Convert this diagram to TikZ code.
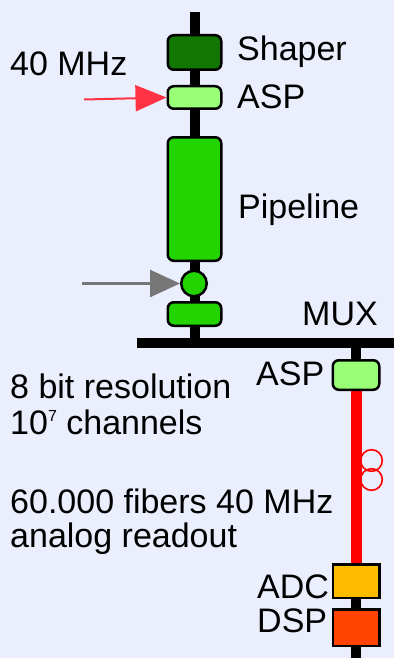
\documentclass[tikz,border=0pt]{standalone}
\usepackage{fontspec}
\setmainfont{Liberation Sans}
\usetikzlibrary{arrows.meta}
\definecolor{bgc}{RGB}{234,238,253}
\definecolor{darkg}{RGB}{17,119,0}
\definecolor{lightg}{RGB}{153,255,119}
\definecolor{midg}{RGB}{34,212,0}
\definecolor{adcc}{RGB}{255,187,0}
\definecolor{dspc}{RGB}{255,68,0}
\definecolor{arrred}{RGB}{255,51,68}
\definecolor{arrgray}{RGB}{119,119,119}
\definecolor{fibred}{RGB}{255,0,0}
\tikzset{
  blk/.style={draw=black,line width=2.5pt,rounded corners=6pt,inner sep=0pt},
  sqblk/.style={draw=black,line width=2.5pt,inner sep=0pt},
  lbl/.style={anchor=base west,inner sep=0pt,font=\fontsize{34}{36}\selectfont},
  wire/.style={line width=10pt,black},
}
\begin{document}
\begin{tikzpicture}[x=1pt,y=-1pt]
\fill[bgc] (0,0) rectangle (394,658);
\useasboundingbox (0,0) rectangle (394,658);
% chain coordinates
\coordinate (ltop) at (194.5,12);
\coordinate (lbar) at (194.5,343);
\coordinate (barL) at (137,343);
\coordinate (barR) at (394,343);
\coordinate (rbar) at (356,343);
\coordinate (rbot) at (356,658);
% node positions
\coordinate (shaper) at (194.5,52.5);
\coordinate (asp1) at (194.5,97.5);
\coordinate (pipe) at (194.5,199);
\coordinate (circ) at (194,283.5);
\coordinate (mux) at (194.5,314);
\coordinate (asp2) at (356,375);
\coordinate (adc) at (356,581);
\coordinate (dsp) at (356,627.5);
% wires (behind the boxes)
\draw[wire] (ltop) -- (lbar);
\draw[wire] (barL) -- (barR);
\draw[wire] (rbar) -- (rbot);
\draw[line width=11pt,fibred] (asp2) -- (adc);
% fibre loops
\draw[fibred,line width=1.6pt] (371.5,460.5) circle[radius=10.8];
\draw[fibred,line width=1.6pt] (371.5,479.5) circle[radius=10.8];
\draw[line width=11pt,fibred] (356,440) -- (356,500);
% boxes
\node[blk,fill=darkg,minimum width=53.5pt,minimum height=34.5pt] (nshaper) at (shaper) {};
\node[blk,fill=lightg,minimum width=53.5pt,minimum height=22.5pt] (nasp1) at (asp1) {};
\node[blk,fill=midg,minimum width=53.5pt,minimum height=123.5pt] (npipe) at (pipe) {};
\node[circle,draw=black,line width=2.5pt,fill=midg,minimum size=25.5pt,inner sep=0pt] (ncirc) at (circ) {};
\node[blk,fill=midg,minimum width=53.5pt,minimum height=23.5pt] (nmux) at (mux) {};
\node[blk,fill=lightg,minimum width=46.5pt,minimum height=29.5pt] (nasp2) at (asp2) {};
\node[sqblk,fill=adcc,minimum width=46.5pt,minimum height=33.5pt] (nadc) at (adc) {};
\node[sqblk,fill=dspc,minimum width=46.5pt,minimum height=36.5pt] (ndsp) at (dsp) {};
% arrows
\coordinate (redstart) at (84,99.5);
\coordinate (graystart) at (82,283.5);
\draw[arrred,line width=2pt,-{Triangle[length=31pt,width=26pt]}] (redstart) -- (nasp1.west);
\draw[arrgray,line width=2.5pt,-{Triangle[length=30pt,width=27pt]}] (graystart) -- (ncirc.west);
% labels
\node[lbl] (t40) at (10,76) {40 MHz};
\node[lbl] (tshaper) at (237,61) {Shaper};
\node[lbl] (tasp1) at (237,109) {ASP};
\node[lbl] (tpipe) at (238,218) {Pipeline};
\node[lbl] (tmux) at (302,325) {MUX};
\node[lbl] (tasp2) at (256,385) {ASP};
\node[lbl] (t8bit) at (10,398) {8 bit resolution};
\node[lbl] (tchan) at (10,434) {10\raisebox{13pt}{\fontsize{16}{16}\selectfont 7} channels};
\node[lbl] (tfib) at (10,513) {60.000 fibers 40 MHz};
\node[lbl] (tana) at (10,547) {analog readout};
\node[lbl] (tadc) at (257,598) {ADC};
\node[lbl] (tdsp) at (257,632) {DSP};
\end{tikzpicture}
\end{document}
